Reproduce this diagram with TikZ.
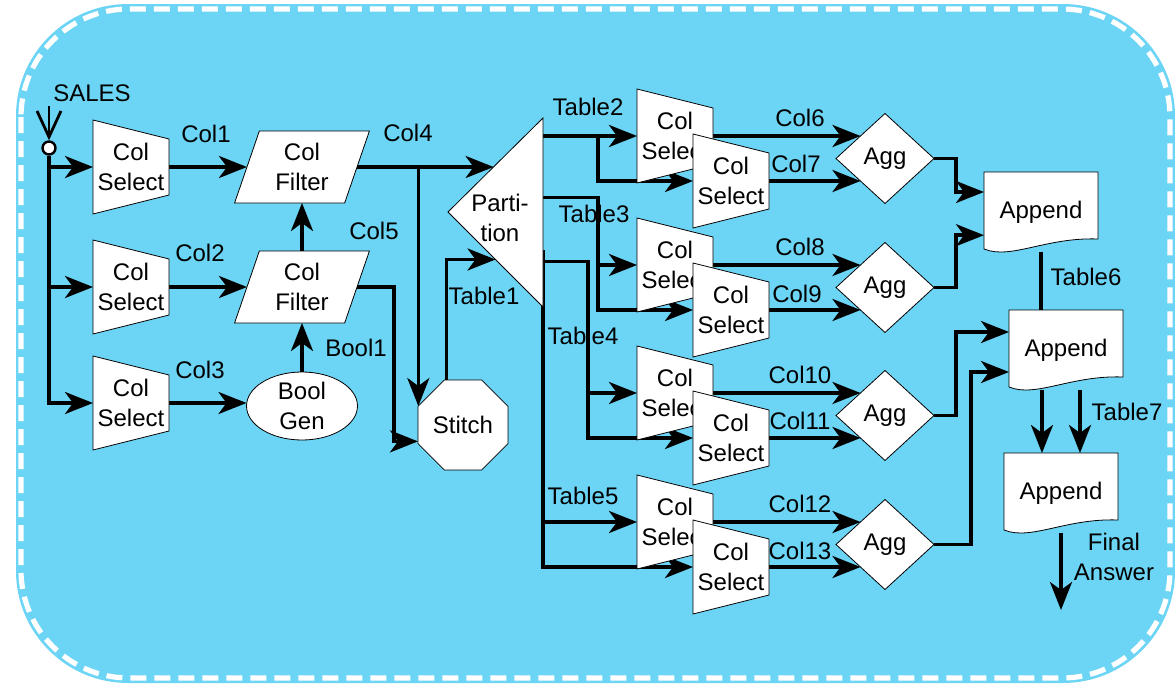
\documentclass[tikz,border=0pt]{standalone}
\usepackage{fontspec}
\setmainfont{Liberation Sans}
\usetikzlibrary{calc, positioning, arrows.meta, shapes.geometric}
\definecolor{panelBlue}{RGB}{108, 213, 245}
\pgfdeclarelayer{panel}
\pgfdeclarelayer{wires}
\pgfsetlayers{panel,wires,main}

\begin{document}
\begin{tikzpicture}[x=0.5pt, y=-0.5pt,
  font=\fontsize{12}{15}\selectfont,
  box/.style={draw, thin, fill=white, inner sep=0pt, outer sep=0pt, align=center},
  cstext/.style={inner sep=0pt, outer sep=0pt, align=center, minimum width=38pt, minimum height=47pt},
  filter/.style={box, trapezium, trapezium left angle=72, trapezium right angle=108,
    trapezium stretches=true, minimum width=67.5pt, minimum height=36pt},
  agg/.style={box, diamond, minimum width=49pt, minimum height=45pt},
  doc/.style={inner sep=0pt, outer sep=0pt, minimum width=57pt, minimum height=40pt},
  lbl/.style={inner sep=0pt, align=center},
  wire/.style={line width=1.8pt},
  arr/.style={wire, -{Stealth[length=14pt, width=11pt, inset=4pt]}}]
  \useasboundingbox (0,0) rectangle (1175,686);

  % rounded dashed panel
  \begin{pgfonlayer}{panel}
    \fill[panelBlue, rounded corners=56pt] (16,4) rectangle (1175,683);
    \draw[white, line width=2.6pt, dash pattern=on 8pt off 4pt, rounded corners=54pt]
      (21,9) rectangle (1170,678);
  \end{pgfonlayer}

  % input port
  \node[draw, line width=1.2pt, circle, fill=white, minimum size=6.5pt, inner sep=0pt] (salesin) at (49,148) {};
  \coordinate (salestop) at (49,106);

  % column selectors (back one of each pair first)
  \foreach \n/\x/\y in {cs1/131/167, cs2/131/287, cs3/131/403,
                        csa1/675/136, csb1/731/181, csa2/675/265, csb2/731/310,
                        csa3/675/393, csb3/731/438, csa4/675/522, csb4/731/567} {
    \filldraw[thin, fill=white] (\x-38,\y-47) -- (\x+38,\y-28) -- (\x+38,\y+28) -- (\x-38,\y+47) -- cycle;
    \node[cstext] (\n) at (\x,\y) {Col\\Select};
  }

  \node[filter] (cf1) at (302,167) {Col\\Filter};
  \node[filter] (cf2) at (302,287) {Col\\Filter};
  \node[box, ellipse, minimum width=55.5pt, minimum height=34pt] (bool) at (302,406) {Bool\\Gen};
  \node[box, regular polygon, regular polygon sides=8, minimum size=48.7pt] (stitch) at (463,425) {Stitch};

  % partition triangle
  \filldraw[thin, fill=white] (448,212) coordinate (pa) -- (543,118) coordinate (pt)
    -- (543,307) coordinate (pb) -- cycle;
  \node[lbl] (part) at (500,218) {Parti-\\tion};
  \coordinate (p4) at ($(pa)!.48!(pt)$);
  \coordinate (p1) at ($(pa)!.5!(pb)$);
  \coordinate (t2) at (pt |- csa1.west);
  \coordinate (t3) at ($(pt)!.42!(pb)$);
  \coordinate (t4) at ($(pt)!.76!(pb)$);
  \coordinate (t5) at ($(pt)!.7!(pb)$);

  \foreach \i/\y in {1/158.5, 2/287.5, 3/415.5, 4/544.5}
    \node[agg] (agg\i) at (885,\y) {Agg};

  % append boxes with wavy bottom
  \foreach \i/\x/\y in {1/1041/212, 2/1066/350, 3/1061/493} {
    \filldraw[thin, fill=white] (\x-57,\y-40) -- (\x+57,\y-40) -- (\x+57,\y+27)
      .. controls (\x+5,\y+25) and (\x-30,\y+48) .. (\x-57,\y+37) -- cycle;
    \node[doc] (ap\i) at (\x,\y) {Append};
  }
  \coordinate (final) at (1061,610);

  % labels
  \foreach \n/\x/\y/\txt in {sales/92/93/SALES, col1/206/134/Col1, col2/200/253/Col2,
      col3/200/370/Col3, col4/408/133/Col4, col5/374/231/Col5, bool1/356/348/Bool1,
      table1/484/296/Table1, table2/588/107/Table2, table3/594/214/Table3,
      table4/583/336/Table4, table5/583/496/Table5,
      col6/800/118/Col6, col7/796/164/Col7, col8/800/247/Col8, col9/797/294/Col9,
      col10/800/375/Col10, col11/800/421/Col11, col12/800/504/Col12, col13/800/551/Col13,
      table6/1086/277/Table6, table7/1127/412/Table7}
    \node[lbl] (l\n) at (\x,\y) {\txt};
  \node[lbl] (lfinal) at (1114,557) {Final\\Answer};

  % connectors
  \begin{pgfonlayer}{wires}
    \draw[line width=1.4pt, -{Straight Barb[length=13pt, width=12pt]}] (salestop) -- (salesin);
    \foreach \n in {cs1, cs2, cs3}
      \draw[arr] (salesin) |- (\n.west);
    \draw[arr] (cs1.east) -- (cf1.west);
    \draw[arr] (cs2.east) -- (cf2.west);
    \draw[arr] (cs3.east) -- (cs3.east -| bool.west);
    \draw[arr] (bool.north) -- (cf2.south);
    \draw[arr] (cf2.north) -- (cf1.south);
    \draw[arr] (cf1.east) -- (cf1.east -| p4);
    \draw[arr] (stitch.157.5 |- cf1.east) -- (stitch.157.5);
    \draw[arr] (cf2.east) -- ++(37,0) |- (stitch.200);
    \draw[arr] (stitch.110) |- (p1);

    \draw[arr] (t2) -- (csa1.west);
    \draw[arr] ($(t2)+(55,0)$) |- (csb1.west);
    \draw[arr] (t3) -- ++(55,0) |- (csa2.west);
    \draw[arr] (t3) -- ++(55,0) |- (csb2.west);
    \draw[arr] (t4) -- ++(45,0) |- (csa3.west);
    \draw[arr] (t4) -- ++(45,0) |- (csb3.west);
    \draw[arr] (t5) |- (csa4.west);
    \draw[arr] (t5) |- (csb4.west);

    \foreach \i in {1,...,4} {
      \draw[arr] (csa\i.east) -- ($(agg\i.west)!.5!(agg\i.north)$);
      \draw[arr] (csb\i.east) -- ($(agg\i.west)!.5!(agg\i.south)$);
    }
    \draw[arr] (agg1.east) -- ++(22,0) |- ($(ap1.north west)!.25!(ap1.south west)$);
    \draw[arr] (agg2.east) -- ++(22,0) |- ($(ap1.north west)!.79!(ap1.south west)$);
    \draw[arr] (agg3.east) -- ++(22,0) |- ($(ap2.north west)!.275!(ap2.south west)$);
    \draw[arr] (agg4.east) -- ++(37,0) |- ($(ap2.north west)!.775!(ap2.south west)$);
    \draw[wire] (ap1.south) -- (ap1.south |- ap2.north);
    \draw[arr] ($(ap2.south)+(-24,0)$) -- ($(ap3.north)+(-19,0)$);
    \draw[arr] ($(ap2.south)+(14,0)$) -- ($(ap3.north)+(19,0)$);
    \draw[arr] (ap3.south) -- (final);
  \end{pgfonlayer}
\end{tikzpicture}
\end{document}
